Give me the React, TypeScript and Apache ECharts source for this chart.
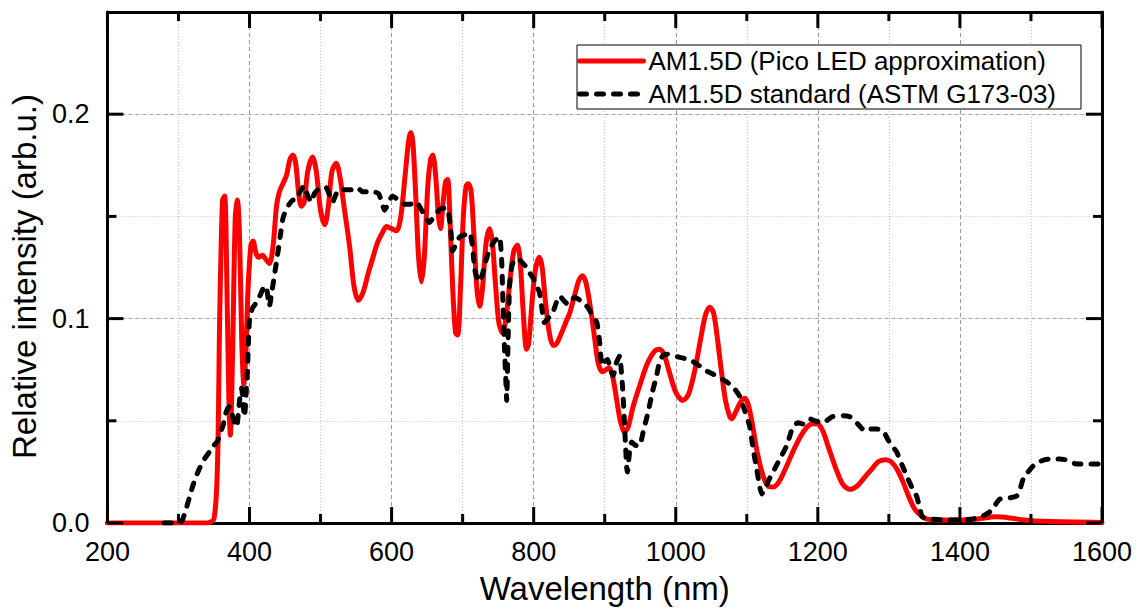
import React, { useEffect, useRef } from "react";
import * as echarts from "echarts";

const ledWavelength = [200, 340, 350, 355, 358, 362, 365, 368, 371, 373, 376, 380, 383, 386, 389, 392, 395, 398, 402, 405, 409, 413, 418, 423, 428, 433, 438, 442, 447, 452, 457, 461, 465, 469, 473, 477, 482, 489, 494, 500, 506, 511, 516, 522, 527, 533, 541, 547, 553, 560, 567, 573, 580, 587, 593, 600, 607, 613, 619, 624, 627, 630, 634, 638, 642, 646, 651, 655, 658, 662, 666, 669, 672, 676, 679, 682, 686, 690, 693, 697, 701, 705, 708, 712, 716, 720, 724, 728, 733, 738, 742, 746, 751, 756, 761, 767, 772, 777, 781, 785, 790, 793, 797, 802, 808, 812, 816, 822, 827, 830, 838, 845, 851, 858, 864, 869, 874, 880, 886, 891, 897, 902, 906, 911, 917, 922, 928, 933, 940, 950, 960, 970, 977, 983, 990, 1000, 1010, 1018, 1027, 1035, 1042, 1048, 1053, 1058, 1064, 1070, 1076, 1079, 1084, 1091, 1097, 1102, 1108, 1115, 1123, 1130, 1137, 1145, 1155, 1165, 1175, 1185, 1193, 1200, 1207, 1215, 1225, 1235, 1245, 1255, 1265, 1275, 1285, 1295, 1303, 1312, 1320, 1328, 1336, 1344, 1353, 1370, 1400, 1425, 1450, 1470, 1490, 1520, 1600];
const ledIntensity = [0, 0, 0.002, 0.03, 0.1, 0.158, 0.16, 0.12, 0.06, 0.043, 0.08, 0.15, 0.158, 0.14, 0.09, 0.068, 0.085, 0.115, 0.136, 0.138, 0.132, 0.13, 0.131, 0.129, 0.127, 0.135, 0.155, 0.162, 0.166, 0.17, 0.178, 0.18, 0.176, 0.162, 0.155, 0.157, 0.172, 0.179, 0.172, 0.153, 0.146, 0.155, 0.172, 0.176, 0.17, 0.155, 0.135, 0.116, 0.109, 0.113, 0.122, 0.129, 0.137, 0.142, 0.145, 0.144, 0.143, 0.15, 0.17, 0.187, 0.191, 0.186, 0.16, 0.13, 0.118, 0.13, 0.165, 0.178, 0.18, 0.17, 0.15, 0.144, 0.155, 0.167, 0.168, 0.15, 0.115, 0.093, 0.092, 0.115, 0.15, 0.165, 0.166, 0.162, 0.14, 0.115, 0.106, 0.115, 0.137, 0.144, 0.137, 0.118, 0.098, 0.093, 0.1, 0.12, 0.133, 0.136, 0.128, 0.105, 0.085, 0.088, 0.105, 0.123, 0.13, 0.125, 0.11, 0.093, 0.087, 0.087, 0.092, 0.098, 0.103, 0.112, 0.119, 0.121, 0.117, 0.105, 0.09, 0.078, 0.074, 0.075, 0.076, 0.072, 0.06, 0.05, 0.0445, 0.047, 0.057, 0.068, 0.078, 0.084, 0.085, 0.083, 0.075, 0.064, 0.06, 0.063, 0.075, 0.09, 0.102, 0.1055, 0.103, 0.092, 0.075, 0.06, 0.052, 0.051, 0.054, 0.059, 0.061, 0.058, 0.048, 0.034, 0.023, 0.018, 0.0176, 0.02, 0.027, 0.035, 0.042, 0.047, 0.0485, 0.0484, 0.045, 0.037, 0.027, 0.019, 0.0165, 0.018, 0.022, 0.026, 0.03, 0.031, 0.03, 0.026, 0.02, 0.013, 0.007, 0.004, 0.002, 0.0015, 0.0015, 0.002, 0.003, 0.0025, 0.0015, 0.0008, 0.0003];

const astmWavelength = [280, 300, 305, 310, 315, 320, 325, 330, 334, 340, 344, 350, 355, 360, 363, 366, 369, 372, 375, 378, 381, 383, 386, 389, 391, 393, 395, 397, 400, 404, 408, 413, 417, 421, 424, 428, 431, 435, 440, 444, 447, 451, 456, 461, 466, 471, 477, 482, 487, 491, 496, 502, 508, 513, 517, 522, 527, 535, 545, 552, 559, 568, 576, 582, 586, 590, 595, 601, 610, 618, 627, 635, 644, 653, 660, 668, 674, 679, 683, 686, 690, 696, 703, 710, 714, 717, 721, 724, 728, 731, 735, 738, 745, 752, 755, 757, 759, 761, 762, 764, 766, 769, 773, 779, 785, 790, 795, 799, 804, 808, 812, 815, 820, 827, 832, 837, 842, 848, 853, 858, 865, 872, 876, 882, 889, 893, 896, 900, 904, 908, 912, 916, 921, 923, 925, 927, 929, 931, 932, 935, 938, 943, 949, 955, 961, 967, 973, 977, 982, 988, 995, 1006, 1018, 1030, 1040, 1052, 1062, 1072, 1082, 1090, 1097, 1104, 1109, 1114, 1118, 1121, 1126, 1131, 1137, 1146, 1156, 1161, 1165, 1172, 1179, 1184, 1189, 1196, 1203, 1212, 1220, 1227, 1236, 1245, 1252, 1259, 1266, 1275, 1283, 1292, 1300, 1311, 1319, 1327, 1333, 1339, 1343, 1347, 1355, 1380, 1400, 1418, 1430, 1442, 1450, 1456, 1465, 1473, 1480, 1485, 1489, 1496, 1503, 1512, 1520, 1527, 1540, 1548, 1555, 1562, 1569, 1580, 1590, 1600];
const astmIntensity = [0, 0, 0.001, 0.006, 0.012, 0.018, 0.023, 0.027, 0.03, 0.033, 0.035, 0.038, 0.04, 0.045, 0.048, 0.053, 0.056, 0.057, 0.054, 0.05, 0.047, 0.049, 0.06, 0.066, 0.058, 0.052, 0.062, 0.074, 0.1, 0.105, 0.107, 0.11, 0.113, 0.116, 0.115, 0.106, 0.112, 0.121, 0.1325, 0.142, 0.149, 0.153, 0.156, 0.158, 0.158, 0.162, 0.165, 0.16, 0.157, 0.161, 0.163, 0.164, 0.164, 0.16, 0.157, 0.161, 0.163, 0.163, 0.163, 0.164, 0.162, 0.162, 0.162, 0.161, 0.157, 0.153, 0.156, 0.16, 0.158, 0.156, 0.156, 0.157, 0.152, 0.147, 0.15, 0.1535, 0.154, 0.1535, 0.145, 0.133, 0.136, 0.14, 0.141, 0.142, 0.135, 0.124, 0.119, 0.118, 0.122, 0.126, 0.131, 0.134, 0.138, 0.14, 0.128, 0.105, 0.085, 0.068, 0.06, 0.09, 0.116, 0.125, 0.129, 0.129, 0.127, 0.125, 0.122, 0.12, 0.116, 0.113, 0.104, 0.098, 0.1, 0.103, 0.108, 0.111, 0.109, 0.107, 0.109, 0.1105, 0.109, 0.107, 0.1056, 0.102, 0.098, 0.088, 0.077, 0.079, 0.08, 0.075, 0.072, 0.078, 0.0817, 0.076, 0.067, 0.055, 0.04, 0.027, 0.025, 0.035, 0.0396, 0.038, 0.0377, 0.046, 0.054, 0.064, 0.072, 0.0787, 0.082, 0.0826, 0.082, 0.081, 0.08, 0.0778, 0.075, 0.0729, 0.071, 0.069, 0.066, 0.062, 0.055, 0.0474, 0.036, 0.0264, 0.018, 0.0142, 0.017, 0.021, 0.025, 0.031, 0.0377, 0.043, 0.0474, 0.049, 0.0484, 0.05, 0.0509, 0.05, 0.0494, 0.05, 0.052, 0.0523, 0.0525, 0.052, 0.05, 0.0474, 0.045, 0.046, 0.046, 0.045, 0.04, 0.0347, 0.028, 0.0215, 0.017, 0.0132, 0.008, 0.003, 0.002, 0.0015, 0.0015, 0.002, 0.003, 0.0054, 0.009, 0.0117, 0.012, 0.0125, 0.0132, 0.017, 0.0215, 0.025, 0.0279, 0.03, 0.031, 0.0313, 0.0313, 0.031, 0.0303, 0.029, 0.0289, 0.0289, 0.0289, 0.0289];

const xTicks = [200, 400, 600, 800, 1000, 1200, 1400, 1600];
const xMinorTicks = [300, 500, 700, 900, 1100, 1300, 1500];
const yTicks = [0, 0.1, 0.2];
const yMinorTicks = [0.05, 0.15];

const seriesNames = ["AM1.5D (Pico LED approximation)", "AM1.5D standard (ASTM G173-03)"];

const FONT = "'Liberation Sans', Arial, Helvetica, sans-serif";
const X_MIN = 200;
const X_MAX = 1600;
const Y_MIN = 0;
const Y_MAX = 0.25;

const frameLine = () => ({ show: true, onZero: false, lineStyle: { color: "#000", width: 3 } });

export default function App() {
  const ref = useRef<HTMLDivElement>(null);
  useEffect(() => {
    if (!ref.current) return;
    const chart = echarts.init(ref.current, null, { renderer: "svg" });
    const ledData = ledWavelength.map((w, i) => [w, ledIntensity[i]]);
    const astmData = astmWavelength.map((w, i) => [w, astmIntensity[i]]);
    // tick marks: [value, kind] kind 0 x-major, 1 x-minor, 2 y-major, 3 y-minor
    const tickData = [
      ...xTicks.map((v) => [v, 0]),
      ...xMinorTicks.map((v) => [v, 1]),
      ...yTicks.map((v) => [v, 2]),
      ...yMinorTicks.map((v) => [v, 3]),
    ];
    const black = "#000";
    const tickLine = (x1: number, y1: number, x2: number, y2: number) => ({
      type: "line",
      shape: { x1, y1, x2, y2 },
      style: { stroke: "#000", lineWidth: 3 },
    });
    chart.setOption({
      animation: false,
      backgroundColor: "#fff",
      textStyle: { fontFamily: FONT },
      grid: { left: 107, right: 45, top: 12, bottom: 86, containLabel: false },
      legend: {
        show: true,
        data: seriesNames,
        orient: "vertical",
        left: 577,
        top: 45,
        padding: [2, 25, 1, 0],
        itemGap: 5,
        itemWidth: 64,
        itemHeight: 14,
        backgroundColor: "#fff",
        borderColor: "#000",
        borderWidth: 1,
        lineStyle: { width: 5 },
        itemStyle: { opacity: 0 },
        textStyle: { fontSize: 26, color: "#000", fontFamily: FONT, lineHeight: 28 },
      },
      xAxis: [
        {
          type: "value",
          min: X_MIN,
          max: X_MAX,
          interval: 200,
          position: "bottom",
          name: "Wavelength (nm)",
          nameLocation: "middle",
          nameGap: 49,
          nameTextStyle: { fontSize: 33, color: black, fontFamily: FONT },
          axisLine: frameLine(),
          axisTick: { show: false },
          minorTick: { show: false, splitNumber: 2 },
          splitLine: { show: true, lineStyle: { color: "#9a9a9a", type: [4, 3], width: 1 } },
          minorSplitLine: { show: true, lineStyle: { color: "#c4c4c4", type: [1, 2], width: 1 } },
          axisLabel: {
            show: true,
            fontSize: 27,
            color: black,
            margin: 15,
            fontFamily: FONT,
            formatter: (v: number) => (xTicks.includes(v) ? String(v) : ""),
          },
        },
        {
          type: "value",
          min: X_MIN,
          max: X_MAX,
          interval: 200,
          position: "top",
          axisLine: frameLine(),
          axisTick: { show: false },
          splitLine: { show: false },
          axisLabel: { show: false },
        },
      ],
      yAxis: [
        {
          type: "value",
          position: "left",
          min: Y_MIN,
          max: Y_MAX,
          interval: 0.1,
          name: "Relative intensity (arb.u.)",
          nameLocation: "middle",
          nameGap: 60,
          nameRotate: 90,
          nameTextStyle: { fontSize: 33, color: black, fontFamily: FONT, padding: [0, 18, 0, 0] },
          axisLine: frameLine(),
          axisTick: { show: false },
          splitLine: { show: true, lineStyle: { color: "#9a9a9a", type: [4, 3], width: 1 } },
          axisLabel: {
            show: true,
            fontSize: 27,
            color: black,
            margin: 18,
            fontFamily: FONT,
            showMaxLabel: false,
            formatter: (v: number) => {
              const hit = yTicks.find((t) => Math.abs(t - v) < 1e-9);
              return hit === undefined ? "" : hit.toFixed(1);
            },
          },
        },
        {
          type: "value",
          position: "left",
          min: Y_MIN,
          max: Y_MAX,
          interval: 0.05,
          axisLine: { show: false },
          axisTick: { show: false },
          splitLine: { show: true, lineStyle: { color: "#c4c4c4", type: [1, 2], width: 1 } },
          axisLabel: { show: false },
        },
        {
          type: "value",
          position: "right",
          min: Y_MIN,
          max: Y_MAX,
          interval: 0.1,
          axisLine: frameLine(),
          axisTick: { show: false },
          splitLine: { show: false },
          axisLabel: { show: false },
        },
      ],
      series: [
        {
          name: seriesNames[0],
          type: "line",
          xAxisIndex: 0,
          yAxisIndex: 0,
          data: ledData,
          showSymbol: false,
          symbol: "none",
          smooth: 0.3,
          lineStyle: { color: "#ff0000", width: 5, cap: "round", join: "round" },
          itemStyle: { color: "#ff0000", opacity: 0 },
          z: 4,
        },
        {
          name: seriesNames[1],
          type: "line",
          xAxisIndex: 0,
          yAxisIndex: 0,
          data: astmData,
          showSymbol: false,
          symbol: "none",
          smooth: 0.15,
          lineStyle: { color: "#000", width: 5, type: [7, 10], cap: "round", join: "round" },
          itemStyle: { color: "#000", opacity: 0 },
          z: 5,
        },
        {
          type: "custom",
          xAxisIndex: 0,
          yAxisIndex: 0,
          silent: true,
          clip: false,
          z: 20,
          data: tickData,
          renderItem: (_params: any, api: any) => {
            const v = api.value(0);
            const kind = api.value(1);
            const len = kind === 0 || kind === 2 ? 16 : 9;
            if (kind <= 1) {
              const b = api.coord([v, Y_MIN]);
              const t = api.coord([v, Y_MAX]);
              return {
                type: "group",
                children: [tickLine(b[0], b[1], b[0], b[1] - len), tickLine(t[0], t[1], t[0], t[1] + len)],
              };
            }
            const l = api.coord([X_MIN, v]);
            const r = api.coord([X_MAX, v]);
            return {
              type: "group",
              children: [tickLine(l[0], l[1], l[0] + len, l[1]), tickLine(r[0], r[1], r[0] - len, r[1])],
            };
          },
        },
      ],
    });
    return () => chart.dispose();
  }, []);
  return (
    <div
      ref={ref}
      style={{ position: "fixed", left: 0, top: 0, width: 1147, height: 610, background: "#fff" }}
    />
  );
}
